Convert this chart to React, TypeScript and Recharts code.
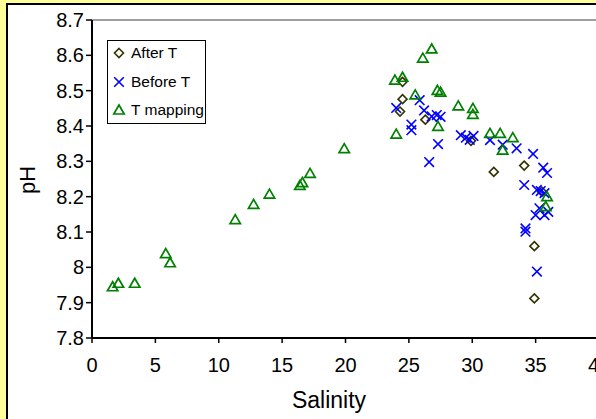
import { ScatterChart, Scatter, XAxis, YAxis, ReferenceLine, Legend, Label } from 'recharts'

const FONT = 'Arial, "Liberation Sans", sans-serif'

// Salinity / pH pairs for each sampling set
const afterTSalinity = [24.5, 24.5, 24.3, 26.3, 29.9, 31.7, 34.1, 35.5, 34.9, 34.9]
const afterTPh = [8.525, 8.476, 8.441, 8.418, 8.358, 8.27, 8.288, 8.214, 8.06, 7.912]

const beforeTSalinity = [
  24.0, 25.85, 26.2, 25.2, 25.2, 26.8, 27.2, 27.5, 27.3, 26.6, 29.1, 29.5, 29.8, 30.1, 31.4, 32.4,
  33.5, 34.8, 35.6, 35.9, 34.1, 35.1, 35.4, 35.7, 35.3, 35.0, 35.7, 36.0, 34.2, 34.2, 35.1,
]
const beforeTPh = [
  8.451, 8.473, 8.444, 8.404, 8.388, 8.427, 8.431, 8.426, 8.349, 8.298, 8.374, 8.367, 8.361, 8.372,
  8.36, 8.347, 8.337, 8.321, 8.282, 8.267, 8.233, 8.219, 8.216, 8.21, 8.167, 8.148, 8.148, 8.157,
  8.11, 8.101, 7.988,
]

const mappingSalinity = [
  1.63, 2.08, 3.37, 5.82, 6.16, 11.3, 12.75, 14.0, 16.4, 16.6, 17.2, 19.9, 23.9, 24.5, 24.0, 25.5,
  26.1, 26.8, 27.25, 27.5, 27.3, 28.9, 30.05, 30.05, 31.4, 32.2, 33.2, 32.4, 35.9, 35.8,
]
const mappingPh = [
  7.945, 7.955, 7.955, 8.039, 8.013, 8.135, 8.178, 8.207, 8.232, 8.24, 8.266, 8.336, 8.53, 8.538,
  8.377, 8.488, 8.592, 8.618, 8.501, 8.496, 8.399, 8.457, 8.45, 8.433, 8.379, 8.379, 8.367, 8.332,
  8.2, 8.172,
]

const salinityTicks = [0, 5, 10, 15, 20, 25, 30, 35, 40]
const phTicks = [7.8, 7.9, 8, 8.1, 8.2, 8.3, 8.4, 8.5, 8.6, 8.7]

const zip = (xs: number[], ys: number[]) => xs.map((x, i) => ({ x, y: ys[i] }))

type MarkProps = { cx?: number; cy?: number; color: string }

function Diamond({ cx = 0, cy = 0, color }: MarkProps) {
  const r = 4.5
  return (
    <path
      d={`M${cx},${cy - r}L${cx + r},${cy}L${cx},${cy + r}L${cx - r},${cy}Z`}
      fill="none"
      stroke={color}
      strokeWidth={1.6}
    />
  )
}

function Cross({ cx = 0, cy = 0, color }: MarkProps) {
  const r = 4.8
  return (
    <path
      d={`M${cx - r},${cy - r}L${cx + r},${cy + r}M${cx - r},${cy + r}L${cx + r},${cy - r}`}
      fill="none"
      stroke={color}
      strokeWidth={1.6}
    />
  )
}

function Triangle({ cx = 0, cy = 0, color }: MarkProps) {
  return (
    <path
      d={`M${cx},${cy - 5}L${cx + 5.2},${cy + 4}L${cx - 5.2},${cy + 4}Z`}
      fill="none"
      stroke={color}
      strokeWidth={1.7}
    />
  )
}

const series = [
  { name: 'After T', data: zip(afterTSalinity, afterTPh), color: '#333300', Mark: Diamond },
  { name: 'Before T', data: zip(beforeTSalinity, beforeTPh), color: '#0000FF', Mark: Cross },
  { name: 'T mapping', data: zip(mappingSalinity, mappingPh), color: '#008000', Mark: Triangle },
]

function LegendBox() {
  return (
    <div
      style={{
        position: 'relative',
        boxSizing: 'border-box',
        width: 99,
        height: 84,
        border: '1.5px solid #000',
        background: '#fff',
        fontFamily: FONT,
        fontSize: 15.5,
        color: '#000',
      }}
    >
      {series.map(({ name, color, Mark }, i) => (
        <div
          key={name}
          style={{
            position: 'absolute',
            left: 4,
            top: i * 28.5 - 2,
            height: 28,
            display: 'flex',
            alignItems: 'center',
            whiteSpace: 'nowrap',
          }}
        >
          <svg width={14} height={14} style={{ marginRight: 5 }}>
            <Mark cx={7} cy={7} color={color} />
          </svg>
          {name}
        </div>
      ))}
    </div>
  )
}

export default function App() {
  return (
    <div
      style={{
        position: 'fixed',
        left: 0,
        top: 0,
        width: 596,
        height: 419,
        overflow: 'hidden',
        background: '#FFFF99',
      }}
    >
      <div
        style={{
          position: 'absolute',
          left: 6,
          top: 3,
          width: 700,
          height: 500,
          border: '2px solid #000',
          background: '#fff',
        }}
      />
      <div style={{ position: 'absolute', left: 0, top: 0 }}>
        <ScatterChart width={640} height={419} margin={{ top: 20, right: 41, bottom: 0, left: 0 }}>
          <XAxis
            type="number"
            dataKey="x"
            domain={[0, 40]}
            ticks={salinityTicks}
            height={81}
            tickSize={5}
            tickMargin={15}
            axisLine={{ stroke: '#000', strokeWidth: 2 }}
            tickLine={{ stroke: '#000', strokeWidth: 1.5 }}
            tick={{ fill: '#000', fontSize: 20, fontFamily: FONT }}
          >
            <Label
              content={({ viewBox }: any) => (
                <text
                  x={viewBox.x + 237}
                  y={viewBox.y + 70}
                  textAnchor="middle"
                  fontSize={23}
                  fontFamily={FONT}
                  fill="#000"
                >
                  Salinity
                </text>
              )}
            />
          </XAxis>
          <YAxis
            type="number"
            dataKey="y"
            domain={[7.8, 8.7]}
            ticks={phTicks}
            width={92}
            tickSize={6}
            tickMargin={2}
            tickFormatter={(v: number) => String(Number(v.toFixed(1)))}
            axisLine={{ stroke: '#000', strokeWidth: 2 }}
            tickLine={{ stroke: '#000', strokeWidth: 1.5 }}
            tick={{ fill: '#000', fontSize: 20, fontFamily: FONT }}
          >
            <Label
              content={({ viewBox }: any) => {
                const x = viewBox.x + 27
                const y = viewBox.y + viewBox.height / 2 + 1
                return (
                  <text
                    x={x}
                    y={y}
                    transform={`rotate(-90 ${x} ${y})`}
                    textAnchor="middle"
                    dominantBaseline="central"
                    fontSize={22}
                    fontFamily={FONT}
                    fill="#000"
                  >
                    pH
                  </text>
                )
              }}
            />
          </YAxis>
          <ReferenceLine y={8.7} stroke="#808080" strokeWidth={1.5} />
          {series.map(({ name, data, color, Mark }) => (
            <Scatter
              key={name}
              name={name}
              data={data}
              isAnimationActive={false}
              shape={(p: any) => <Mark cx={p.cx} cy={p.cy} color={color} />}
            />
          ))}
          <Legend
            layout="vertical"
            align="center"
            verticalAlign="middle"
            wrapperStyle={{ left: 107, top: 40, width: 99, height: 84 }}
            content={() => <LegendBox />}
          />
        </ScatterChart>
      </div>
    </div>
  )
}
